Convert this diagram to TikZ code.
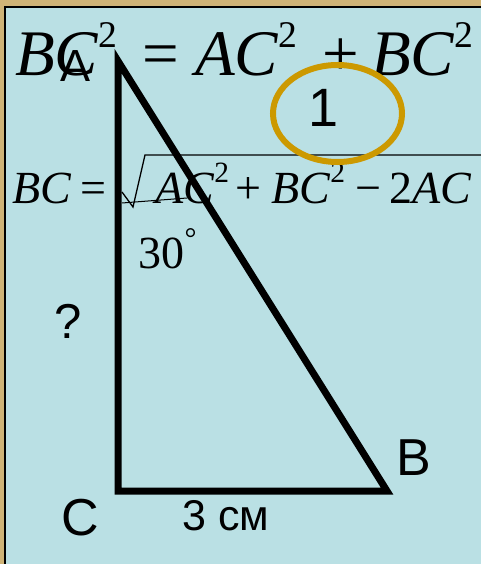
\documentclass[tikz,border=0pt]{standalone}
\usepackage{fontspec}
\usepackage{graphicx}
\setmainfont{Liberation Serif}
\newfontfamily\arialfont{Liberation Sans}
\usetikzlibrary{positioning,shapes.geometric}
\definecolor{tan}{HTML}{CFB477}
\definecolor{pale}{HTML}{BAE0E4}
\definecolor{ring}{HTML}{CC9900}
\newcommand{\two}[1][.58]{\raisebox{.44em}{\scalebox{#1}{\upshape 2}}}
\tikzset{
  big/.style={anchor=base west,inner sep=0pt,font=\fontsize{65}{65}\selectfont},
  mid/.style={anchor=base west,inner sep=0pt,font=\fontsize{46}{46}\selectfont},
  lbl/.style={anchor=base west,inner sep=0pt,font=\arialfont\fontsize{52}{52}\selectfont},
  leg/.style={line width=7pt,black,line join=miter},
}

\begin{document}
\begin{tikzpicture}[x=1pt,y=-1pt]
\useasboundingbox (0,0) rectangle (481,564);
\fill[tan] (0,0) rectangle (481,564);
\draw[fill=pale,line width=1.5pt] (5,7) rectangle (481.5,566);
% first formula
\node[big] (f1a) at (15,76) {\itshape BC\/\two};
\node[big] (f1eq) at (142,76) {=};
\node[big] (f1b) at (195,76) {\itshape AC\/\two};
\node[big] (f1plus) at (322,76) {+};
\node[big] (f1c) at (371,76) {\itshape BC\/\two};
% second formula
\node[mid] (f2a) at (12,203) {\itshape BC};
\node[mid] (f2eq) at (80,203) {=};
\node[mid] (f2b) at (155,203) {\itshape AC\/\two[.64]};
\node[mid] (f2plus) at (235,203) {+};
\node[mid] (f2c) at (271,203) {\itshape BC\/\two[.64]};
\node[mid] (f2minus) at (355,203) {\textminus};
\node[mid] (f2d) at (389,203) {2\itshape AC};
\coordinate (r0) at (122,192);
\coordinate (r1) at (133,207);
\coordinate (r2) at (145,155);
\coordinate (r3) at (485,155);
\draw[line width=1.3pt] (r0) -- (r1) -- (r2) -- (r3);
\draw[line width=1pt] (r0 |- f2a.base) -- (187,198);
% mark
\node[ellipse,draw=ring,line width=6pt,minimum width=129pt,minimum height=97pt] (mark) at (337.5,113.5) {};
\node[lbl,font=\arialfont\fontsize{54}{54}\selectfont,anchor=center] (one) at (324,108) {1};
% triangle
\coordinate (A) at (118,61);
\coordinate (B) at (387,491);
\coordinate (C) at (118,491);
\draw[leg] (A) -- (B) -- (C) -- cycle;
\node[mid] (ang) at (138,268) {30};
\node[mid,font=\fontsize{30}{30}\selectfont] (deg) at (184.5,248) {°};
\node[lbl,font=\arialfont\fontsize{45}{45}\selectfont] (la) at (60,82) {A};
\node[lbl] (lb) at (396,475) {B};
\node[lbl] (lc) at (61,535) {C};
\node[lbl,font=\arialfont\fontsize{49}{49}\selectfont] (lq) at (54,338) {?};
\node[lbl,font=\arialfont\fontsize{43}{43}\selectfont] (len) at (182,530) {3 см};
\end{tikzpicture}
\end{document}
